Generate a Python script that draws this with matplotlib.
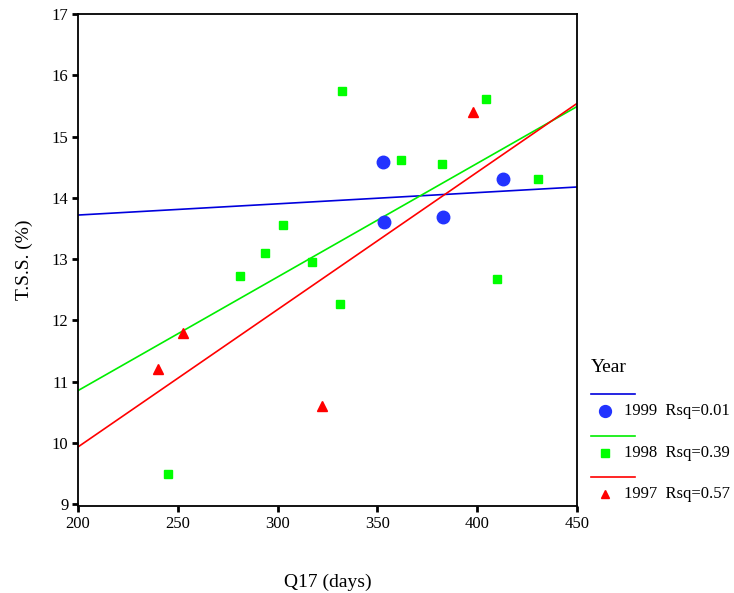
import numpy as np
import matplotlib.pyplot as plt
from matplotlib.lines import Line2D

plt.rcParams['font.family'] = ['Liberation Serif', 'DejaVu Serif']

# zralost (dny) a obsah susiny pro jednotlive roky
x1999 = [352.7, 353.3, 383.0, 413.2]
y1999 = [14.58, 13.60, 13.68, 14.30]

x1998 = [245.3, 281.3, 293.7, 302.7, 317.0, 331.5, 332.2, 361.7, 382.2, 404.2, 409.7, 430.3]
y1998 = [9.50, 12.72, 13.10, 13.55, 12.95, 12.27, 15.75, 14.62, 14.55, 15.62, 12.67, 14.31]

x1997 = [240.0, 252.7, 322.5, 398.0]
y1997 = [11.20, 11.79, 10.61, 15.40]

years = ['1999', '1998', '1997']
xs = [x1999, x1998, x1997]
ys = [y1999, y1998, y1997]
line_colors = ['#0000dd', '#00ee00', '#ff0000']
point_colors = ['#2233ff', '#00ff00', '#ff0000']
markers = ['o', 's', '^']
msizes = [9, 6, 6.5]

xticks = [200, 250, 300, 350, 400, 450]
yticks = [9, 10, 11, 12, 13, 14, 15, 16, 17]

fig = plt.figure(figsize=(7.34, 5.93), dpi=100)
ax = fig.add_axes([0.1063, 0.1467, 0.6797, 0.8297])

xl = np.array([200, 450])
rsq = []
for i in range(len(years)):
    x = np.array(xs[i])
    y = np.array(ys[i])
    k, q = np.polyfit(x, y, 1)
    r = np.corrcoef(x, y)[0, 1]
    rsq.append(r ** 2)
    ax.plot(xl, k * xl + q, color=line_colors[i], lw=1.2, zorder=2)
    ax.plot(x, y, ls='none', marker=markers[i], ms=msizes[i],
            color=point_colors[i], mec=point_colors[i], zorder=3)

ax.set_xlim(200, 450)
ax.set_ylim(8.97, 17)
ax.set_xticks(xticks)
ax.set_yticks(yticks)
ax.tick_params(direction='out', length=4, width=2, labelsize=12, colors='black', pad=3)
for s in ax.spines.values():
    s.set_linewidth(1.3)
ax.set_xlabel('Q17 (days)', fontsize=14, labelpad=30)
ax.set_ylabel('T.S.S. (%)', fontsize=14, labelpad=13)

# legenda poskladana rucne
W, H = 734, 593
fig.text(591 / W, 1 - 368 / H, 'Year', fontsize=14, va='center', ha='left')
rows = [394, 436, 477]
for i in range(len(years)):
    yl = 1 - rows[i] / H
    ym = 1 - (rows[i] + 17) / H
    fig.add_artist(Line2D([591 / W, 635 / W], [yl, yl], color=line_colors[i], lw=1.2,
                          transform=fig.transFigure))
    fig.add_artist(Line2D([605 / W], [ym], marker=markers[i], ms=msizes[i] * 0.95,
                          color=point_colors[i], ls='none', transform=fig.transFigure))
    fig.text(624 / W, ym, f'{years[i]}  Rsq={rsq[i]:.2f}', fontsize=12,
             va='center', ha='left')

fig.savefig('out.png', dpi=100)
